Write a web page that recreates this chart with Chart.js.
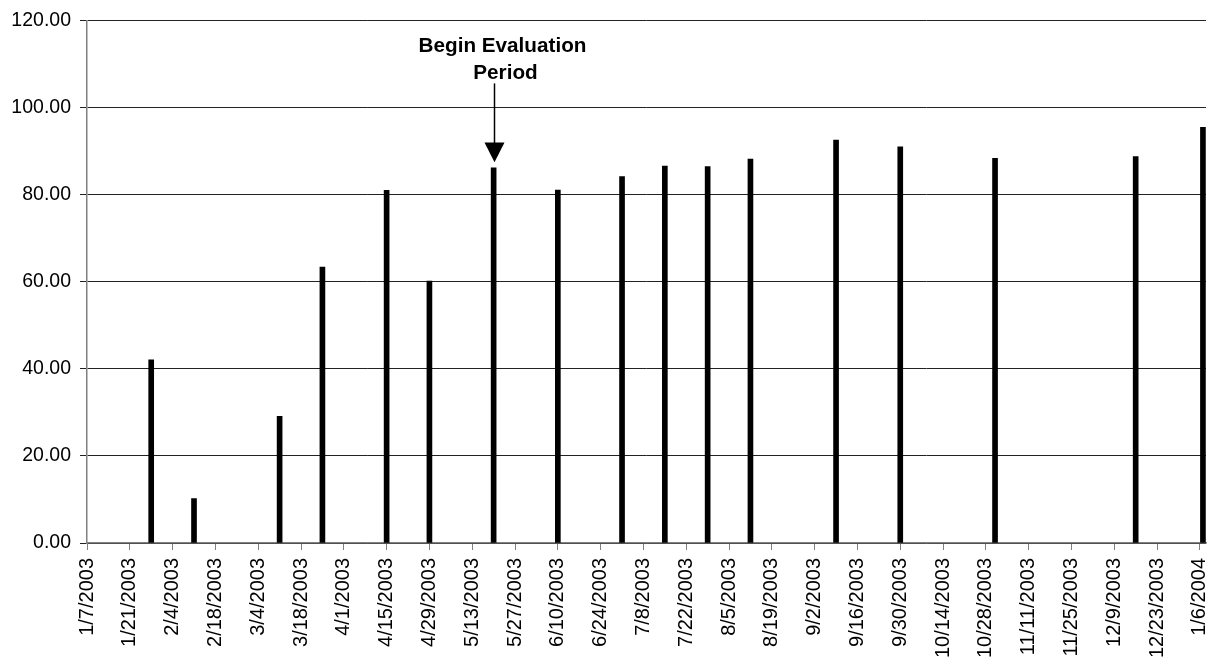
<!DOCTYPE html>
<html>
<head>
<meta charset="utf-8">
<script src="https://cdn.jsdelivr.net/npm/chart.js@4/dist/chart.umd.min.js"></script>
<style>
html,body{margin:0;padding:0;background:#fff;}
canvas{display:block;}
</style>
</head>
<body>
<canvas id="chart" width="1212" height="663"></canvas>
<script>
// ======================================
// DATA
// ======================================

const sampleDates = [
"1/28/2003","2/11/2003","3/11/2003","3/25/2003","4/15/2003","4/29/2003",
"5/20/2003","6/10/2003","7/1/2003","7/15/2003","7/29/2003","8/12/2003",
"9/9/2003","9/30/2003","10/31/2003","12/16/2003","1/7/2004"
];

const sampleValues = [
42.1,10.2,29.1,63.4,81.0,60.2,
86.2,81.1,84.2,86.6,86.5,88.2,
92.6,91.0,88.4,88.8,95.5
];

const tickLabels = [
"1/7/2003","1/21/2003","2/4/2003","2/18/2003","3/4/2003","3/18/2003",
"4/1/2003","4/15/2003","4/29/2003","5/13/2003","5/27/2003","6/10/2003",
"6/24/2003","7/8/2003","7/22/2003","8/5/2003","8/19/2003","9/2/2003",
"9/16/2003","9/30/2003","10/14/2003","10/28/2003","11/11/2003","11/25/2003",
"12/9/2003","12/23/2003","1/6/2004"
];

const axisEnd = "1/8/2004";

const noteDate = "5/20/2003";
const noteLines = ["Begin Evaluation","Period"];

// ======================================
// HELPERS
// ======================================

const base = Date.UTC(2003,0,7);

function day(s){
  const p = s.split("/").map(Number);
  return Math.round((Date.UTC(p[2],p[0]-1,p[1]) - base)/86400000);
}

const points = sampleDates.map((d,i)=>({x:day(d),y:sampleValues[i]}));

const FONT = "'Liberation Sans', Arial, sans-serif";

// ======================================
// ANNOTATION
// ======================================

const notePlugin = {
  id:"note",
  afterDraw(chart){
    const c = chart.ctx;
    const xs = chart.scales.x, ys = chart.scales.y;
    const x = Math.round(xs.getPixelForValue(day(noteDate))) + 0.5;
    c.save();
    c.fillStyle = "#000";
    c.strokeStyle = "#000";
    c.font = "bold 20.7px " + FONT;
    c.textAlign = "center";
    c.textBaseline = "alphabetic";
    c.fillText(noteLines[0], x + 8, ys.getPixelForValue(112.8));
    c.fillText(noteLines[1], x + 11, ys.getPixelForValue(106.7));
    // arrow
    const y0 = ys.getPixelForValue(105.6);
    const yHead = ys.getPixelForValue(92.0);
    const yTip = ys.getPixelForValue(87.5);
    c.lineWidth = 1.5;
    c.beginPath();
    c.moveTo(x, y0);
    c.lineTo(x, yHead + 1);
    c.stroke();
    c.beginPath();
    c.moveTo(x - 10, yHead);
    c.lineTo(x + 10, yHead);
    c.lineTo(x, yTip);
    c.closePath();
    c.fill();
    c.restore();
  }
};

// ======================================
// CHART
// ======================================

new Chart(document.getElementById("chart"),{
  type:"bar",
  data:{
    datasets:[{
      data:points,
      backgroundColor:"#000",
      borderWidth:0,
      barThickness:5
    }]
  },
  options:{
    responsive:false,
    animation:false,
    layout:{padding:{top:20,right:6,left:0,bottom:0}},
    plugins:{legend:{display:false},tooltip:{enabled:false}},
    scales:{
      x:{
        type:"linear",
        offset:false,
        min:0,
        max:day(axisEnd),
        grid:{offset:false,drawOnChartArea:false,drawTicks:true,tickLength:7,color:"#808080"},
        border:{color:"#808080",width:1.5},
        afterBuildTicks(scale){
          scale.ticks = tickLabels.map(t=>({value:day(t)}));
        },
        afterFit(scale){
          scale.height = 120;
          scale.paddingLeft = 0;
          scale.paddingRight = 0;
        },
        ticks:{
          autoSkip:false,
          maxRotation:90,
          minRotation:90,
          padding:8,
          color:"#000",
          font:{family:FONT,size:20},
          callback:(v)=>{
            const i = tickLabels.findIndex(t=>day(t)===v);
            return i>=0 ? tickLabels[i] : "";
          }
        }
      },
      y:{
        min:0,
        max:120,
        grid:{color:"#222",lineWidth:1,tickLength:7,drawTicks:true},
        border:{color:"#808080",width:1.5},
        afterFit(scale){
          scale.width = 87;
        },
        ticks:{
          stepSize:20,
          padding:9,
          color:"#000",
          font:{family:FONT,size:19.5},
          callback:(v)=>v.toFixed(2)
        }
      }
    }
  },
  plugins:[notePlugin]
});
</script>
</body>
</html>
